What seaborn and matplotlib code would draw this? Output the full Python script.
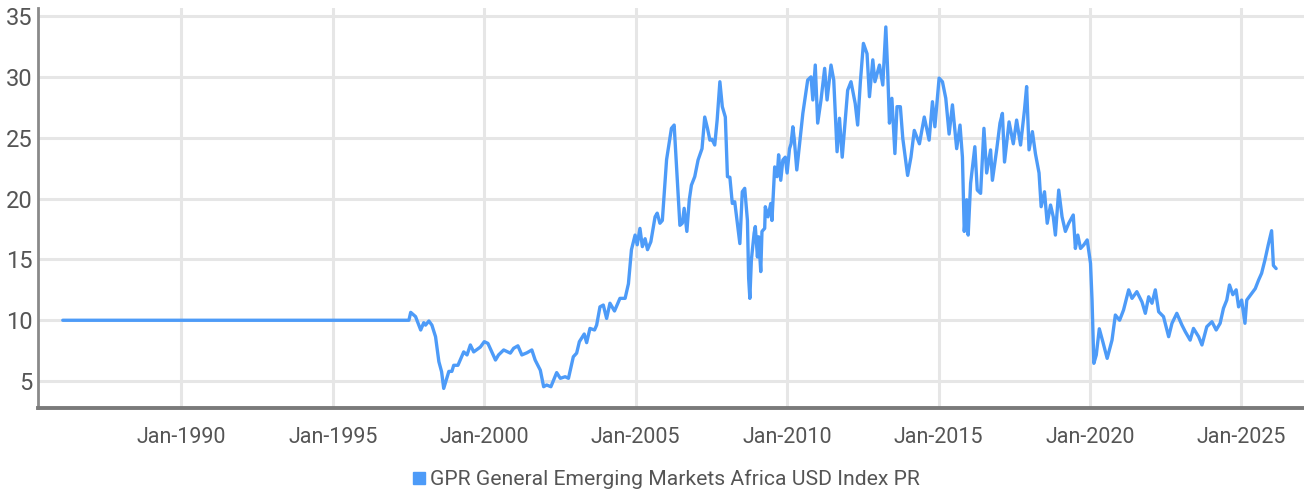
import numpy as np
import pandas as pd
import matplotlib
matplotlib.use("Agg")
import matplotlib.pyplot as plt
from matplotlib.lines import Line2D
import seaborn as sns

# ---- data (decimal year, index level) ----
years = [
    1986.08, 1997.51, 1997.57, 1997.73, 1997.90, 1998.00, 1998.06, 1998.17, 1998.27, 1998.39,
    1998.50, 1998.59, 1998.66, 1998.83, 1998.93, 1998.99, 1999.13, 1999.32, 1999.43, 1999.54,
    1999.65, 1999.87, 2000.00, 2000.12, 2000.37, 2000.47, 2000.64, 2000.86, 2000.97, 2001.11,
    2001.24, 2001.41, 2001.57, 2001.68, 2001.85, 2001.96, 2002.06, 2002.20, 2002.39, 2002.51,
    2002.67, 2002.78, 2002.94, 2003.05, 2003.14, 2003.30, 2003.38, 2003.49, 2003.64, 2003.71,
    2003.82, 2003.93, 2004.04, 2004.15, 2004.30, 2004.48, 2004.65, 2004.76, 2004.86, 2004.98,
    2005.05, 2005.14, 2005.22, 2005.31, 2005.39, 2005.50, 2005.64, 2005.71, 2005.80, 2005.88,
    2006.02, 2006.18, 2006.27, 2006.46, 2006.54, 2006.60, 2006.69, 2006.77, 2006.84, 2006.95,
    2007.06, 2007.19, 2007.28, 2007.37, 2007.45, 2007.52, 2007.61, 2007.69, 2007.78, 2007.86,
    2007.96, 2008.03, 2008.11, 2008.19, 2008.27, 2008.44, 2008.52, 2008.60, 2008.69, 2008.73,
    2008.77, 2008.82, 2008.91, 2008.95, 2009.02, 2009.06, 2009.13, 2009.17, 2009.26, 2009.28,
    2009.37, 2009.46, 2009.50, 2009.59, 2009.67, 2009.72, 2009.79, 2009.86, 2009.94, 2010.00,
    2010.08, 2010.13, 2010.19, 2010.24, 2010.32, 2010.52, 2010.68, 2010.79, 2010.85, 2010.93,
    2011.01, 2011.12, 2011.24, 2011.32, 2011.45, 2011.54, 2011.65, 2011.73, 2011.82, 2012.00,
    2012.11, 2012.25, 2012.33, 2012.42, 2012.52, 2012.64, 2012.72, 2012.83, 2012.90, 2013.05,
    2013.16, 2013.26, 2013.32, 2013.38, 2013.46, 2013.56, 2013.63, 2013.74, 2013.82, 2013.98,
    2014.09, 2014.20, 2014.37, 2014.53, 2014.69, 2014.80, 2014.88, 2015.02, 2015.13, 2015.24,
    2015.35, 2015.46, 2015.60, 2015.71, 2015.79, 2015.85, 2015.93, 2015.98, 2016.06, 2016.20,
    2016.28, 2016.39, 2016.50, 2016.59, 2016.72, 2016.78, 2016.92, 2017.03, 2017.11, 2017.18,
    2017.33, 2017.47, 2017.58, 2017.71, 2017.84, 2017.91, 2017.99, 2018.10, 2018.20, 2018.32,
    2018.39, 2018.50, 2018.59, 2018.70, 2018.79, 2018.86, 2018.97, 2019.08, 2019.19, 2019.30,
    2019.45, 2019.52, 2019.60, 2019.69, 2019.80, 2019.91, 2020.02, 2020.07, 2020.13, 2020.21,
    2020.31, 2020.43, 2020.57, 2020.73, 2020.84, 2020.98, 2021.11, 2021.28, 2021.39, 2021.55,
    2021.72, 2021.83, 2021.94, 2022.05, 2022.16, 2022.27, 2022.43, 2022.60, 2022.71, 2022.87,
    2023.04, 2023.15, 2023.31, 2023.42, 2023.59, 2023.70, 2023.86, 2024.03, 2024.17, 2024.30,
    2024.41, 2024.52, 2024.61, 2024.72, 2024.83, 2024.91, 2025.01, 2025.12, 2025.18, 2025.31,
    2025.46, 2025.57, 2025.67, 2025.78, 2025.89, 2026.00, 2026.06, 2026.15,
]
values = [
    10.0, 10.0, 10.65, 10.3, 9.2, 9.8, 9.6, 9.94, 9.6, 8.65,
    6.6, 5.77, 4.4, 5.8, 5.8, 6.3, 6.3, 7.4, 7.15, 7.97,
    7.4, 7.8, 8.24, 8.1, 6.73, 7.15, 7.56, 7.3, 7.7, 7.9,
    7.15, 7.33, 7.56, 6.73, 5.9, 4.54, 4.68, 4.54, 5.7, 5.23,
    5.36, 5.23, 7.0, 7.3, 8.24, 8.87, 8.16, 9.33, 9.2, 9.6,
    11.1, 11.25, 10.15, 11.4, 10.76, 11.8, 11.8, 13.0, 15.8, 17.0,
    16.2, 17.55, 16.05, 16.7, 15.8, 16.45, 18.5, 18.8, 17.97, 18.2,
    23.2, 25.77, 26.04, 17.8, 17.97, 19.2, 17.3, 19.9, 21.1, 21.8,
    23.17, 24.1, 26.7, 25.77, 24.8, 24.87, 24.4, 26.45, 29.6, 27.55,
    26.7, 21.8, 21.75, 19.6, 19.74, 16.3, 20.56, 20.84, 18.2, 13.45,
    11.8, 14.95, 17.14, 17.7, 15.2, 16.86, 14.0, 17.3, 17.55, 19.33,
    18.5, 19.6, 18.2, 22.6, 21.8, 23.6, 21.5, 23.17, 23.4, 22.1,
    24.1, 24.5, 25.9, 24.8, 22.35, 27.0, 29.74, 30.0, 28.1, 30.97,
    26.2, 28.1, 30.7, 28.1, 30.97, 29.74, 23.85, 26.6, 23.4, 28.9,
    29.6, 27.8, 26.04, 29.6, 32.75, 31.9, 28.37, 31.4, 29.6, 30.97,
    29.33, 34.1, 30.56, 26.2, 28.24, 23.7, 27.55, 27.55, 24.95, 21.9,
    23.4, 25.6, 24.5, 26.7, 24.8, 27.96, 25.9, 29.9, 29.6, 28.24,
    25.3, 27.7, 24.1, 26.04, 23.4, 17.3, 19.9, 17.0, 21.25, 24.26,
    20.7, 20.43, 25.77, 22.1, 24.0, 21.5, 24.0, 26.2, 27.0, 23.0,
    26.3, 24.5, 26.45, 24.4, 27.3, 29.2, 24.0, 25.5, 23.7, 22.1,
    19.33, 20.56, 17.97, 19.47, 18.5, 17.0, 20.7, 18.5, 17.3, 17.97,
    18.65, 15.9, 17.0, 15.9, 16.2, 16.6, 14.68, 11.66, 6.46, 7.15,
    9.3, 8.2, 6.87, 8.37, 10.43, 10.0, 10.84, 12.5, 11.8, 12.35,
    11.5, 10.57, 11.93, 11.4, 12.5, 10.7, 10.3, 8.65, 9.75, 10.57,
    9.6, 9.06, 8.37, 9.33, 8.65, 7.97, 9.47, 9.88, 9.2, 9.75,
    10.98, 11.66, 12.9, 12.1, 12.5, 11.1, 11.66, 9.75, 11.66, 12.1,
    12.6, 13.3, 13.86, 14.95, 16.2, 17.36, 14.5, 14.25,
]
series_name = "GPR General Emerging Markets Africa USD Index PR"
tick_years = [1990, 1995, 2000, 2005, 2010, 2015, 2020, 2025]
tick_labels = ["Jan-1990", "Jan-1995", "Jan-2000", "Jan-2005",
               "Jan-2010", "Jan-2015", "Jan-2020", "Jan-2025"]
y_ticks = [5, 10, 15, 20, 25, 30, 35]

df = pd.DataFrame({"year": years, "value": values, "series": series_name})

sns.set_theme(style="white")
plt.rcParams["font.family"] = ["Roboto", "DejaVu Sans"]

line_color = "#4d9bf8"
fig = plt.figure(figsize=(13.04, 4.93), dpi=100)
ax = fig.add_axes([0.0291, 0.1724, 0.9709, 0.8114])

sns.lineplot(data=df, x="year", y="value", ax=ax, color=line_color,
             linewidth=2.4, legend=False, estimator=None, sort=False)

ax.set_xlim(1985.26, 2027.07)
ax.set_ylim(2.79, 35.66)
ax.set_xticks(tick_years)
ax.set_xticklabels(tick_labels)
ax.set_yticks(y_ticks)
ax.set_xlabel("")
ax.set_ylabel("")

ax.grid(True, color="#e6e6e6", linewidth=2.2)
ax.set_axisbelow(True)
for s in ["top", "right"]:
    ax.spines[s].set_visible(False)
ax.spines["left"].set_color("#8a8a8a")
ax.spines["left"].set_linewidth(2.0)
ax.spines["bottom"].set_color("#7a7a7a")
ax.spines["bottom"].set_linewidth(2.8)

ax.tick_params(axis="both", length=0, labelcolor="#555555")
ax.tick_params(axis="x", pad=14, labelsize=15.5)
ax.tick_params(axis="y", pad=4, labelsize=17)

handle = Line2D([], [], marker="s", linestyle="none", color=line_color,
                markersize=9)
fig.legend([handle], [series_name], loc="center", bbox_to_anchor=(0.51, 0.027),
           frameon=False, fontsize=15.2, handletextpad=0.1, handlelength=0.8,
           labelcolor="#555555")

fig.savefig("out.png", dpi=100)
